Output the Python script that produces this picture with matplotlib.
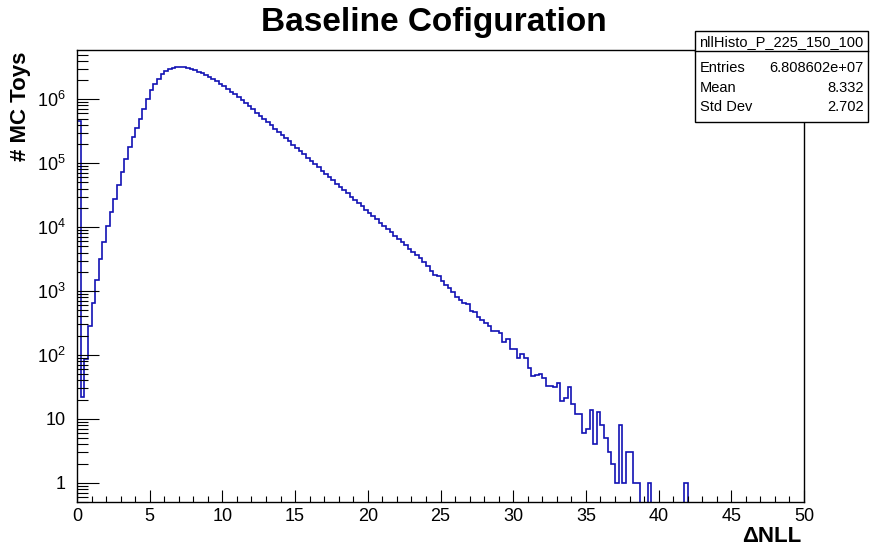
import matplotlib
matplotlib.use('Agg')
import matplotlib.pyplot as plt
from matplotlib.ticker import FixedLocator, MultipleLocator, NullFormatter
from matplotlib.patches import Rectangle
from matplotlib.lines import Line2D
import numpy as np

#------------------
# Data
#------------------

x_lo, x_hi = 0.0, 50.0
n_bins = 200

# bins 0 - 19
counts_rise = [460000, 22, 86, 285, 660, 1500, 3200, 5800, 10500, 17500,
               28000, 46000, 73000, 117000, 177000, 260000, 360000, 500000, 710000, 1020000]
# bins 20 - 59
counts_peak = [1380000, 1760000, 2100000, 2460000, 2740000, 2970000, 3100000, 3200000, 3200000, 3160000,
               3050000, 2970000, 2880000, 2700000, 2550000, 2400000, 2230000, 2050000, 1900000, 1730000,
               1600000, 1450000, 1320000, 1200000, 1070000, 980000, 875000, 780000, 695000, 620000,
               552000, 492000, 438000, 390000, 348000, 310000, 276000, 246000, 219000, 195000]
# bins 60 - 99
counts_slope = [173000, 154000, 137000, 122000, 109000, 96600, 86000, 76500, 68100, 60500,
                53800, 47900, 42600, 37900, 33700, 30000, 26700, 23800, 21100, 18800,
                16700, 14900, 13200, 11800, 10500, 9310, 8280, 7370, 6560, 5830,
                5190, 4620, 4110, 3650, 3250, 2800, 2450, 2050, 1800, 1720]
# bins 100 - 139
counts_tail = [1420, 1260, 1120, 955, 813, 724, 660, 617, 490, 468,
               398, 347, 316, 282, 234, 234, 224, 158, 178, 126,
               123, 88, 104, 88, 62, 47, 49, 51, 44, 33,
               33, 32, 37, 19, 21, 31, 17, 12, 12, 6]
# bins 140 - 199
counts_end = [7, 14, 4, 13, 8, 5, 3, 2, 1, 8,
              1, 3, 3, 1, 1, 0, 0, 1, 0, 0,
              0, 0, 0, 0, 0, 0, 0, 1, 0, 0,
              0, 0, 0, 0, 0, 0, 0, 0, 0, 0,
              0, 0, 0, 0, 0, 0, 0, 0, 0, 0,
              0, 0, 0, 0, 0, 0, 0, 0, 0, 0]

hist_name = "nllHisto_P_225_150_100"
stat_labels = ["Entries", "Mean", "Std Dev"]
stat_values = ["6.808602e+07", "8.332", "2.702"]

title = "Baseline Cofiguration"
x_title = "\u0394NLL"
y_title = "# MC Toys"

#------------------
# Style
#------------------

plt.rcParams['font.family'] = ['Liberation Sans', 'DejaVu Sans']
plt.rcParams['mathtext.fontset'] = 'custom'
plt.rcParams['mathtext.rm'] = 'Liberation Sans'
plt.rcParams['mathtext.it'] = 'Liberation Sans:italic'
plt.rcParams['mathtext.bf'] = 'Liberation Sans:bold'

line_color = '#1212b4'

#------------------
# Plot
#------------------

counts = np.array(counts_rise + counts_peak + counts_slope + counts_tail + counts_end, dtype=float)
edges = np.linspace(x_lo, x_hi, n_bins + 1)
plot_counts = np.where(counts > 0, counts, 1e-3)

fig = plt.figure(figsize=(8.73, 5.47), dpi=100)
ax = fig.add_axes([77 / 873, 1 - 502 / 547, (804 - 77) / 873, (502 - 50) / 547])

ax.stairs(plot_counts, edges, baseline=1e-3, color=line_color, linewidth=1.2)

ax.set_yscale('log')
ax.set_xlim(x_lo, x_hi)
ax.set_ylim(0.5, 5.9e6)

# x ticks
ax.xaxis.set_major_locator(MultipleLocator(5))
ax.xaxis.set_minor_locator(MultipleLocator(1))
ax.tick_params(axis='x', which='major', direction='in', length=9, width=0.8, pad=4, labelsize=13)
ax.tick_params(axis='x', which='minor', direction='in', length=4.5, width=0.8)

# y ticks
decades = [1, 10, 100, 1e3, 1e4, 1e5, 1e6]
minors = [m * d for d in [0.1] + decades for m in range(2, 10)]
ax.yaxis.set_major_locator(FixedLocator(decades))
ax.yaxis.set_minor_locator(FixedLocator(minors))
ax.set_yticklabels(['1', '10'] + [r'$\mathregular{10^{%d}}$' % k for k in range(2, 7)])
ax.yaxis.set_minor_formatter(NullFormatter())
ax.tick_params(axis='y', which='major', direction='in', length=16, width=0.8, pad=8, labelsize=13)
ax.tick_params(axis='y', which='minor', direction='in', length=8, width=0.8)

for sp in ax.spines.values():
    sp.set_linewidth(1.0)

# titles
fig.text(0.497, 1 - 23 / 547, title, ha='center', va='center', fontsize=24, fontweight='bold')
fig.text(21 / 873, 1 - 52 / 547, y_title, rotation=90, ha='center', va='top', fontsize=16, fontweight='bold')
fig.text(801 / 873, 1 - 537 / 547, x_title, ha='right', va='center', fontsize=16, fontweight='bold')

# stats box
bx0, bx1 = 695 / 873, 868 / 873
by_top, by_sep, by_bot = 1 - 31 / 547, 1 - 51 / 547, 1 - 122 / 547
fig.add_artist(Rectangle((bx0, by_bot), bx1 - bx0, by_top - by_bot, transform=fig.transFigure,
                         facecolor='white', edgecolor='black', linewidth=1.0, zorder=5))
fig.add_artist(Line2D([bx0, bx1], [by_sep, by_sep], transform=fig.transFigure, color='black',
                      linewidth=1.0, zorder=6))
fig.text((bx0 + bx1) / 2, 1 - 42 / 547, hist_name, ha='center', va='center', fontsize=10.5, zorder=7)
row_y = [68, 88, 107]
for lab, val, ry in zip(stat_labels, stat_values, row_y):
    fig.text(700 / 873, 1 - ry / 547, lab, ha='left', va='center', fontsize=10.5, zorder=7)
    fig.text(864 / 873, 1 - ry / 547, val, ha='right', va='center', fontsize=10.5, zorder=7)

fig.savefig('out.png', dpi=100)
